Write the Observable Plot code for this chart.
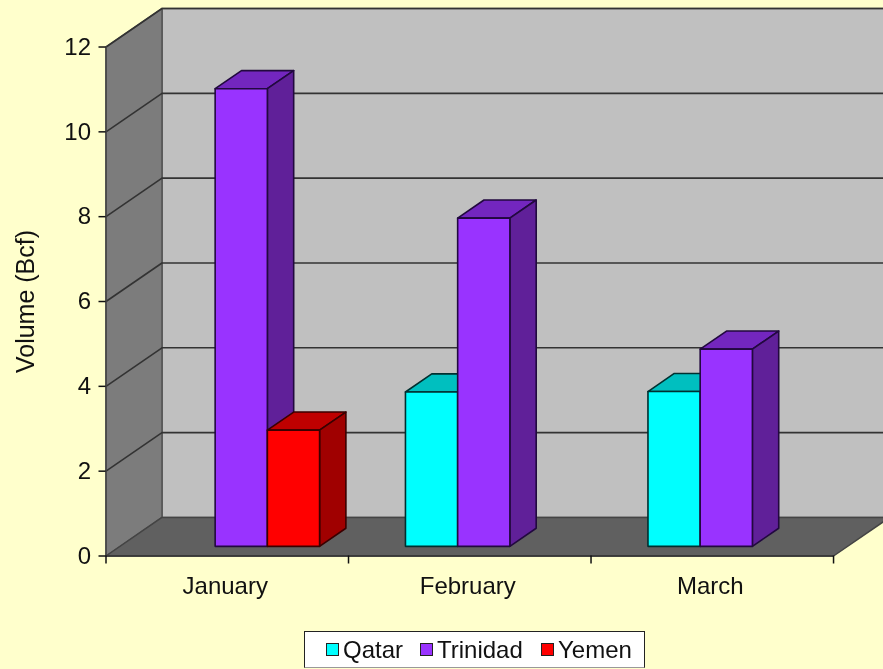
<!DOCTYPE html>
<html>
<head>
<meta charset="utf-8">
<script src="https://cdn.jsdelivr.net/npm/d3@7"></script>
<script src="https://cdn.jsdelivr.net/npm/@observablehq/plot@0.6"></script>
<style>
html,body{margin:0;padding:0;background:#FFFFCC;overflow:hidden;}
#chart svg{display:block;filter:blur(0.35px);}
#legend{position:absolute;left:304px;top:631px;width:339px;height:35px;background:#fff;border:1.5px solid #222;border-bottom-color:#999;
  font-family:"Liberation Sans",Arial,sans-serif;font-size:24px;color:#111;filter:blur(0.3px);display:flex;align-items:center;white-space:nowrap;}
#legend .sw{display:inline-block;box-sizing:border-box;width:13px;height:13px;border:1.5px solid #222;margin-right:4px;}
#legend .it{display:flex;align-items:center;position:absolute;top:0;height:35px;}
</style>
</head>
<body>
<div id="chart"></div>
<div id="legend"></div>
<script>
// ---- data ----
const months = ["January", "February", "March"];
const seriesNames = ["Qatar", "Trinidad", "Yemen"];
const qatar = [null, 3.64, 3.65];
const trinidad = [10.79, 7.74, 4.65];
const yemen = [2.74, null, null];
const yTicks = [0, 2, 4, 6, 8, 10, 12];
const frontColors = ["#00FFFF", "#9933FF", "#FF0000"];
const topColors = ["#00BFBF", "#7326BF", "#BF0000"];
const sideColors = ["#009F9F", "#602099", "#A00000"];
const legendLeft = [21, 115, 236];

// ---- oblique projection in data units ----
const yMax = 12, nCat = months.length;
const depthX = 0.2309, depthY = 0.908;
const barW = 0.2153, gap = (1 - 3 * barW) / 2;
const d0 = 0.25, d1 = 0.72;
const P = (x, y, d) => ({px: x + d * depthX, py: y + d * depthY});

const faces = [];
const addFace = (id, fill, stroke, pts) =>
  pts.forEach(([x, y, d]) => faces.push({id, fill, stroke, ...P(x, y, d)}));

const wallStroke = "#555";
addFace("back", "#C0C0C0", wallStroke, [[0,0,1],[nCat,0,1],[nCat,yMax,1],[0,yMax,1]]);
addFace("left", "#7C7C7C", wallStroke, [[0,0,0],[0,0,1],[0,yMax,1],[0,yMax,0]]);
addFace("floor", "#606060", "#444", [[0,0,0],[nCat,0,0],[nCat,0,1],[0,0,1]]);

const grid = [];
yTicks.filter(v => v > 0).forEach(v => {
  [[0,v,0],[0,v,1],[nCat,v,1]].forEach(([x,y,d]) => grid.push({v, ...P(x,y,d)}));
});

const bars = [];
[qatar, trinidad, yemen].forEach((vals, s) => vals.forEach((v, c) => {
  if (v == null) return;
  bars.push({c, s, v});
}));
bars.sort((a, b) => a.c - b.c || a.s - b.s);
const edge = "#1E0F33";
bars.forEach(({c, s, v}, i) => {
  const x0 = c + gap + s * barW, x1 = x0 + barW;
  const st = s === 2 ? "#3A0000" : s === 0 ? "#003030" : "#22093F";
  addFace(`b${i}top`, topColors[s], st, [[x0,v,d0],[x1,v,d0],[x1,v,d1],[x0,v,d1]]);
  addFace(`b${i}side`, sideColors[s], st, [[x1,0,d0],[x1,0,d1],[x1,v,d1],[x1,v,d0]]);
  addFace(`b${i}front`, frontColors[s], st, [[x0,0,d0],[x1,0,d0],[x1,v,d0],[x0,v,d0]]);
});

const wallFaces = faces.filter(f => ["back","left","floor"].includes(f.id));
const barFaces = faces.filter(f => !["back","left","floor"].includes(f.id));
const polyOpts = {x: "px", y: "py", z: "id", fill: "fill", stroke: "stroke", curve: "linear-closed", strokeLinejoin: "round"};

const font = '"Liberation Sans", Arial, sans-serif';
const chart = Plot.plot({
  width: 883,
  height: 630,
  marginLeft: 105.5,
  marginRight: 0,
  marginTop: 8,
  marginBottom: 74.5,
  style: {background: "transparent", fontFamily: font, overflow: "hidden"},
  color: {type: "identity"},
  x: {domain: [0, 3.206], axis: null},
  y: {domain: [0, 12.908], axis: null},
  marks: [
    Plot.line(wallFaces, {...polyOpts, strokeWidth: 1.5}),
    Plot.line(grid, {x: "px", y: "py", z: "v", stroke: "#333", strokeWidth: 1.6}),
    Plot.line(barFaces, {...polyOpts, strokeWidth: 1.6}),
    Plot.ruleX([0], {y1: 0, y2: yMax, stroke: "#444", strokeWidth: 1.5}),
    Plot.ruleY([0], {x1: 0, x2: nCat, stroke: "#333", strokeWidth: 1.6}),
    Plot.axisY({ticks: yTicks, tickSize: 7, tickPadding: 8, stroke: "#111", strokeWidth: 1.5, fontSize: 24, fill: "#111", label: null}),
    Plot.axisX({ticks: d3.range(nCat + 1), tickSize: 8, tickFormat: () => "", stroke: "#111", strokeWidth: 1.5, label: null}),
    Plot.text(months, {x: (d, i) => i + 0.5, y: 0, dy: 30, dx: -2, text: d => d, fontSize: 24, fill: "#111", lineAnchor: "middle"}),
    Plot.text(["Volume (Bcf)"], {x: 0, y: 6, dx: -80, rotate: -90, text: d => d, fontSize: 25, fill: "#111", frameAnchor: "middle"})
  ]
});
document.getElementById("chart").appendChild(chart);

const lg = document.getElementById("legend");
seriesNames.forEach((name, i) => {
  const it = document.createElement("span");
  it.className = "it";
  it.style.left = legendLeft[i] + "px";
  const sw = document.createElement("span");
  sw.className = "sw";
  sw.style.background = frontColors[i];
  it.appendChild(sw);
  it.appendChild(document.createTextNode(name));
  lg.appendChild(it);
});
</script>
</body>
</html>
